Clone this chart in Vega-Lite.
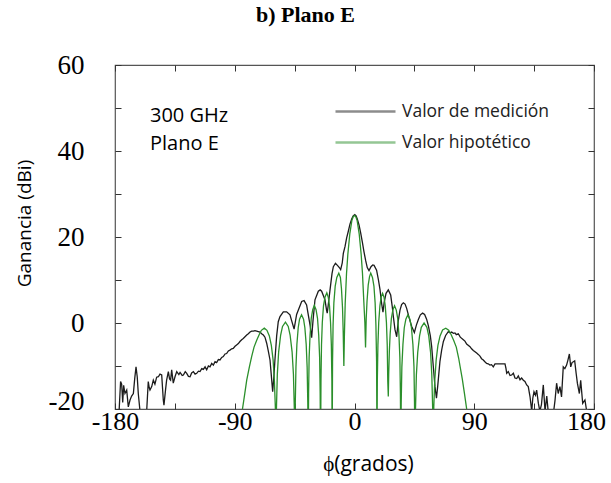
{
  "$schema": "https://vega.github.io/schema/vega-lite/v6.json",
  "width": 479,
  "height": 344,
  "autosize": {"type": "none"},
  "padding": {"left": 115, "top": 65, "right": 17, "bottom": 74},
  "background": "white",
  "title": {"text": "b) Plano E", "font": "Liberation Serif", "fontSize": 22, "fontWeight": "bold", "color": "#000", "anchor": "middle", "frame": "group", "dx": -49, "baseline": "alphabetic", "offset": 7},
  "config": {
    "view": {"stroke": "#555", "strokeWidth": 1.2},
    "axis": {"grid": false, "domain": false, "tickColor": "#333", "tickWidth": 1, "tickSize": -6}
  },
  "datasets": {
    "medicion": [
      {"phi":-177,"ganancia":-21},{"phi":-175.8,"ganancia":-13.6},{"phi":-175,"ganancia":-14.2},{"phi":-174.2,"ganancia":-18.5},{"phi":-173.5,"ganancia":-14.5},{"phi":-172.5,"ganancia":-16.4},{"phi":-171.2,"ganancia":-15.6},{"phi":-170,"ganancia":-19.5},{"phi":-168.7,"ganancia":-17.9},{"phi":-167.5,"ganancia":-17},{"phi":-166.2,"ganancia":-16.4},{"phi":-165.2,"ganancia":-13},{"phi":-164.2,"ganancia":-10.2},{"phi":-163.3,"ganancia":-12.5},{"phi":-162.5,"ganancia":-16.4},{"phi":-161.2,"ganancia":-20.5},{"phi":-158,"ganancia":-22},{"phi":-156.2,"ganancia":-20.5},{"phi":-155,"ganancia":-13.6},{"phi":-154.3,"ganancia":-15},{"phi":-153.7,"ganancia":-15.6},{"phi":-152.4,"ganancia":-14.8},{"phi":-151.2,"ganancia":-13.3},{"phi":-150,"ganancia":-14.2},{"phi":-148.7,"ganancia":-12.6},{"phi":-147.4,"ganancia":-12.5},{"phi":-146.2,"ganancia":-11.9},{"phi":-144.9,"ganancia":-12.1},{"phi":-143.7,"ganancia":-17.9},{"phi":-143.2,"ganancia":-19.1},{"phi":-142,"ganancia":-15.5},{"phi":-141.2,"ganancia":-13.3},{"phi":-139.9,"ganancia":-11.3},{"phi":-139,"ganancia":-13},{"phi":-138.2,"ganancia":-13.3},{"phi":-137.4,"ganancia":-10.9},{"phi":-136.2,"ganancia":-14},{"phi":-134.9,"ganancia":-12.5},{"phi":-133.6,"ganancia":-11.3},{"phi":-132,"ganancia":-12},{"phi":-131.1,"ganancia":-11.5},{"phi":-129.5,"ganancia":-12.2},{"phi":-128.6,"ganancia":-12.1},{"phi":-127.2,"ganancia":-11.3},{"phi":-126.1,"ganancia":-11.7},{"phi":-124.8,"ganancia":-12.4},{"phi":-123.6,"ganancia":-12.5},{"phi":-122.4,"ganancia":-11.6},{"phi":-121.1,"ganancia":-11.3},{"phi":-119.8,"ganancia":-11.9},{"phi":-118.6,"ganancia":-11.7},{"phi":-117.3,"ganancia":-11.2},{"phi":-116.1,"ganancia":-11.3},{"phi":-114.8,"ganancia":-10.6},{"phi":-113.6,"ganancia":-10.8},{"phi":-112.3,"ganancia":-10.2},{"phi":-111.1,"ganancia":-10.9},{"phi":-109.8,"ganancia":-10},{"phi":-108.6,"ganancia":-10.2},{"phi":-107.3,"ganancia":-9.4},{"phi":-106.1,"ganancia":-9.8},{"phi":-104.8,"ganancia":-9},{"phi":-103.6,"ganancia":-9.2},{"phi":-102.3,"ganancia":-8.5},{"phi":-101.1,"ganancia":-8.6},{"phi":-99.8,"ganancia":-8},{"phi":-98.6,"ganancia":-7.8},{"phi":-97.3,"ganancia":-7.2},{"phi":-96.1,"ganancia":-7.1},{"phi":-94.8,"ganancia":-6.5},{"phi":-93.6,"ganancia":-6.3},{"phi":-92.3,"ganancia":-6},{"phi":-91.1,"ganancia":-5.9},{"phi":-89.8,"ganancia":-5.4},{"phi":-88.6,"ganancia":-5.1},{"phi":-87.3,"ganancia":-4.8},{"phi":-86.1,"ganancia":-4.3},{"phi":-84.8,"ganancia":-3.9},{"phi":-83.6,"ganancia":-3.6},{"phi":-82.3,"ganancia":-3.2},{"phi":-81,"ganancia":-2.8},{"phi":-79.8,"ganancia":-2.5},{"phi":-78.5,"ganancia":-2.1},{"phi":-77.3,"ganancia":-1.9},{"phi":-76,"ganancia":-1.9},{"phi":-74.8,"ganancia":-1.8},{"phi":-73.5,"ganancia":-1.9},{"phi":-72.3,"ganancia":-2},{"phi":-71,"ganancia":-2.1},{"phi":-69.8,"ganancia":-2.5},{"phi":-68.5,"ganancia":-2.8},{"phi":-67.3,"ganancia":-3.3},{"phi":-66,"ganancia":-4.7},{"phi":-64.8,"ganancia":-6.5},{"phi":-63.5,"ganancia":-8.6},{"phi":-62.3,"ganancia":-13},{"phi":-61.5,"ganancia":-16},{"phi":-60.6,"ganancia":-12.5},{"phi":-59.8,"ganancia":-8.6},{"phi":-58.5,"ganancia":-3},{"phi":-57.3,"ganancia":0.3},{"phi":-56,"ganancia":1.5},{"phi":-53.5,"ganancia":2.6},{"phi":-51,"ganancia":2.6},{"phi":-48.5,"ganancia":1.9},{"phi":-47.2,"ganancia":0.5},{"phi":-45.4,"ganancia":-1.4},{"phi":-43.5,"ganancia":2},{"phi":-42.2,"ganancia":3},{"phi":-39.7,"ganancia":5},{"phi":-37.9,"ganancia":5.2},{"phi":-36,"ganancia":4.2},{"phi":-34.5,"ganancia":1.5},{"phi":-33.4,"ganancia":-0.5},{"phi":-32.2,"ganancia":-3.4},{"phi":-31.2,"ganancia":0.5},{"phi":-29.7,"ganancia":5.4},{"phi":-27.2,"ganancia":7.4},{"phi":-25.8,"ganancia":7.7},{"phi":-24.7,"ganancia":7.4},{"phi":-22.2,"ganancia":5.4},{"phi":-21,"ganancia":3},{"phi":-20.5,"ganancia":2.3},{"phi":-19.8,"ganancia":4},{"phi":-18.4,"ganancia":7.7},{"phi":-16.9,"ganancia":11.5},{"phi":-15.9,"ganancia":13.1},{"phi":-14.3,"ganancia":13.9},{"phi":-12.5,"ganancia":13.3},{"phi":-11.4,"ganancia":12.9},{"phi":-10.4,"ganancia":12.4},{"phi":-9.2,"ganancia":14},{"phi":-8.4,"ganancia":16.2},{"phi":-7.1,"ganancia":17.8},{"phi":-5.9,"ganancia":19.8},{"phi":-4.6,"ganancia":21.4},{"phi":-3.4,"ganancia":23},{"phi":-2.1,"ganancia":24.2},{"phi":-1,"ganancia":24.9},{"phi":0.2,"ganancia":25.2},{"phi":1.2,"ganancia":24.9},{"phi":2.1,"ganancia":24.2},{"phi":3.4,"ganancia":22.8},{"phi":4.6,"ganancia":21},{"phi":5.9,"ganancia":18.8},{"phi":7.1,"ganancia":16.6},{"phi":8.4,"ganancia":14.5},{"phi":9.6,"ganancia":12.9},{"phi":10.9,"ganancia":12.2},{"phi":12.4,"ganancia":13.1},{"phi":13.7,"ganancia":13.5},{"phi":14.7,"ganancia":13.4},{"phi":16.6,"ganancia":12.3},{"phi":18,"ganancia":10},{"phi":19.2,"ganancia":7.7},{"phi":20.4,"ganancia":4.5},{"phi":21.4,"ganancia":2.5},{"phi":22.3,"ganancia":4.8},{"phi":23.7,"ganancia":6.9},{"phi":25.4,"ganancia":7.7},{"phi":27.2,"ganancia":6.5},{"phi":28.3,"ganancia":4},{"phi":29.2,"ganancia":1.5},{"phi":30.4,"ganancia":-1.5},{"phi":31.7,"ganancia":-3.2},{"phi":32.9,"ganancia":0.5},{"phi":34.2,"ganancia":3},{"phi":35.4,"ganancia":4.3},{"phi":36.7,"ganancia":4.7},{"phi":38,"ganancia":4.4},{"phi":39.2,"ganancia":3.4},{"phi":41,"ganancia":1.3},{"phi":43,"ganancia":-0.8},{"phi":45,"ganancia":-2.2},{"phi":46.5,"ganancia":-0.5},{"phi":48,"ganancia":0.8},{"phi":49.5,"ganancia":1.9},{"phi":51.2,"ganancia":2.3},{"phi":52.7,"ganancia":2},{"phi":54.2,"ganancia":0.9},{"phi":55.5,"ganancia":-0.6},{"phi":57,"ganancia":-3},{"phi":58,"ganancia":-5.5},{"phi":59.2,"ganancia":-10},{"phi":60.5,"ganancia":-14.8},{"phi":61.6,"ganancia":-17.5},{"phi":62.6,"ganancia":-14.5},{"phi":64.2,"ganancia":-9},{"phi":65.5,"ganancia":-6.3},{"phi":66.8,"ganancia":-4.3},{"phi":68.5,"ganancia":-2.9},{"phi":70.5,"ganancia":-2},{"phi":72,"ganancia":-2.3},{"phi":73,"ganancia":-2.1},{"phi":74.3,"ganancia":-2.4},{"phi":75.5,"ganancia":-2.3},{"phi":76.5,"ganancia":-2.7},{"phi":78,"ganancia":-2.5},{"phi":79.5,"ganancia":-3.3},{"phi":81.8,"ganancia":-3.9},{"phi":83,"ganancia":-4.2},{"phi":84.3,"ganancia":-4.9},{"phi":86.8,"ganancia":-5.5},{"phi":88,"ganancia":-6},{"phi":89.3,"ganancia":-6.4},{"phi":91.8,"ganancia":-7},{"phi":93,"ganancia":-7.3},{"phi":94.3,"ganancia":-7.7},{"phi":95.5,"ganancia":-8.3},{"phi":96.8,"ganancia":-8.6},{"phi":98,"ganancia":-9},{"phi":99.3,"ganancia":-9.4},{"phi":100.5,"ganancia":-9.5},{"phi":101.8,"ganancia":-9.8},{"phi":103,"ganancia":-9.7},{"phi":104.3,"ganancia":-10.2},{"phi":105.6,"ganancia":-9.5},{"phi":113.1,"ganancia":-9.5},{"phi":113.8,"ganancia":-10.5},{"phi":114.4,"ganancia":-11.7},{"phi":115.6,"ganancia":-11.3},{"phi":116.9,"ganancia":-12.2},{"phi":118.1,"ganancia":-12.1},{"phi":119.4,"ganancia":-11.7},{"phi":120.6,"ganancia":-12.8},{"phi":121.9,"ganancia":-12.9},{"phi":123.1,"ganancia":-12.3},{"phi":124.4,"ganancia":-13.2},{"phi":125.6,"ganancia":-12.8},{"phi":126.9,"ganancia":-13.3},{"phi":128.1,"ganancia":-13.6},{"phi":129.4,"ganancia":-14.4},{"phi":130.6,"ganancia":-14.8},{"phi":131.9,"ganancia":-17.1},{"phi":133.2,"ganancia":-20.5},{"phi":134,"ganancia":-17.5},{"phi":134.9,"ganancia":-16},{"phi":136,"ganancia":-16.8},{"phi":136.9,"ganancia":-15.6},{"phi":138.2,"ganancia":-18.7},{"phi":139.3,"ganancia":-20.5},{"phi":140.5,"ganancia":-19},{"phi":141.9,"ganancia":-14.4},{"phi":143.2,"ganancia":-20.5},{"phi":144.5,"ganancia":-17},{"phi":145.7,"ganancia":-21},{"phi":149.5,"ganancia":-21},{"phi":150.7,"ganancia":-18},{"phi":151.9,"ganancia":-14},{"phi":153.1,"ganancia":-16.4},{"phi":154.4,"ganancia":-14.8},{"phi":155.6,"ganancia":-17.2},{"phi":156.9,"ganancia":-10.2},{"phi":158.1,"ganancia":-10.6},{"phi":159.4,"ganancia":-9.8},{"phi":160.5,"ganancia":-8.5},{"phi":161.5,"ganancia":-7.2},{"phi":162.5,"ganancia":-10.2},{"phi":163.5,"ganancia":-9.2},{"phi":164.5,"ganancia":-9},{"phi":165.5,"ganancia":-8.8},{"phi":166.5,"ganancia":-11.5},{"phi":167.5,"ganancia":-14},{"phi":169,"ganancia":-16.4},{"phi":170,"ganancia":-13.3},{"phi":171.5,"ganancia":-18.7},{"phi":173.2,"ganancia":-17.9},{"phi":174.5,"ganancia":-20.5},{"phi":176,"ganancia":-22}
    ],
    "hipotetico": [
      {"phi":-85.5,"ganancia":-24},{"phi":-84.2,"ganancia":-20},{"phi":-82.5,"ganancia":-16.5},{"phi":-81,"ganancia":-13.3},{"phi":-79,"ganancia":-10.2},{"phi":-77.3,"ganancia":-7.8},{"phi":-75.5,"ganancia":-5.6},{"phi":-73.5,"ganancia":-4},{"phi":-71.5,"ganancia":-2.6},{"phi":-70,"ganancia":-1.7},{"phi":-67.8,"ganancia":-1.2},{"phi":-65.8,"ganancia":-1.7},{"phi":-64,"ganancia":-3},{"phi":-62.5,"ganancia":-5.2},{"phi":-61.2,"ganancia":-8.5},{"phi":-60.2,"ganancia":-13.5},{"phi":-59.5,"ganancia":-19.5},{"phi":-59.1,"ganancia":-30},
      {"phi":-58.7,"ganancia":-20.3},{"phi":-58,"ganancia":-11.9},{"phi":-57,"ganancia":-6.7},{"phi":-55.5,"ganancia":-2.8},{"phi":-54.1,"ganancia":-0.8},{"phi":-51.9,"ganancia":0.2},{"phi":-49.8,"ganancia":-0.8},{"phi":-48.4,"ganancia":-2.8},{"phi":-46.9,"ganancia":-6.7},{"phi":-45.9,"ganancia":-11.9},{"phi":-45.2,"ganancia":-20.3},{"phi":-44.8,"ganancia":-30},
      {"phi":-44.5,"ganancia":-18.6},{"phi":-44,"ganancia":-10.2},{"phi":-43.3,"ganancia":-5},{"phi":-42.3,"ganancia":-1.1},{"phi":-41.3,"ganancia":0.9},{"phi":-39.8,"ganancia":1.9},{"phi":-38.3,"ganancia":0.9},{"phi":-37.3,"ganancia":-1.1},{"phi":-36.3,"ganancia":-5},{"phi":-35.6,"ganancia":-10.2},{"phi":-35.1,"ganancia":-18.6},{"phi":-34.8,"ganancia":-30},
      {"phi":-34.5,"ganancia":-16.4},{"phi":-34.1,"ganancia":-8},{"phi":-33.4,"ganancia":-2.8},{"phi":-32.5,"ganancia":1.1},{"phi":-31.4,"ganancia":3.1},{"phi":-30.2,"ganancia":4.1},{"phi":-28.9,"ganancia":3.1},{"phi":-27.8,"ganancia":1.1},{"phi":-26.9,"ganancia":-2.8},{"phi":-26.2,"ganancia":-8},{"phi":-25.8,"ganancia":-16.4},{"phi":-25.5,"ganancia":-30},
      {"phi":-25.2,"ganancia":-13.5},{"phi":-24.8,"ganancia":-5.1},{"phi":-24.2,"ganancia":0.1},{"phi":-23.3,"ganancia":4},{"phi":-22.2,"ganancia":6},{"phi":-20.8,"ganancia":7},{"phi":-19.7,"ganancia":6},{"phi":-18.8,"ganancia":4},{"phi":-18,"ganancia":0.1},{"phi":-17.4,"ganancia":-5.1},{"phi":-17,"ganancia":-13.5},{"phi":-16.8,"ganancia":-30},
      {"phi":-16.5,"ganancia":-8.9},{"phi":-16.1,"ganancia":-0.5},{"phi":-15.5,"ganancia":4.7},{"phi":-14.5,"ganancia":8.6},{"phi":-13.3,"ganancia":10.6},{"phi":-11.8,"ganancia":11.6},{"phi":-10.6,"ganancia":10.6},{"phi":-9.8,"ganancia":8},{"phi":-9,"ganancia":3.5},{"phi":-8.5,"ganancia":-2},{"phi":-8,"ganancia":-10},
      {"phi":-7.6,"ganancia":-3},{"phi":-7,"ganancia":4.5},{"phi":-6,"ganancia":11.5},{"phi":-5,"ganancia":16},{"phi":-3.5,"ganancia":20.8},{"phi":-2,"ganancia":23.8},{"phi":-1,"ganancia":24.7},{"phi":0,"ganancia":25},{"phi":1,"ganancia":24.7},{"phi":2,"ganancia":23.8},{"phi":3.5,"ganancia":20.8},{"phi":5,"ganancia":16},{"phi":6,"ganancia":11.5},{"phi":7,"ganancia":5},{"phi":7.8,"ganancia":0},{"phi":8.3,"ganancia":-5.7},
      {"phi":8.8,"ganancia":1},{"phi":9.4,"ganancia":5},{"phi":10.3,"ganancia":8.8},{"phi":11.3,"ganancia":10.8},{"phi":12.2,"ganancia":11.6},{"phi":13.5,"ganancia":10.6},{"phi":14.6,"ganancia":8.6},{"phi":15.5,"ganancia":4.7},{"phi":16.1,"ganancia":-0.5},{"phi":16.6,"ganancia":-8.9},{"phi":16.9,"ganancia":-30},
      {"phi":17.15,"ganancia":-13.5},{"phi":17.6,"ganancia":-5.1},{"phi":18.2,"ganancia":0.1},{"phi":19.1,"ganancia":4},{"phi":20,"ganancia":6},{"phi":21.1,"ganancia":6.9},{"phi":22.2,"ganancia":6},{"phi":23.1,"ganancia":4},{"phi":24,"ganancia":0.1},{"phi":24.6,"ganancia":-5.1},{"phi":25,"ganancia":-13.5},{"phi":25.4,"ganancia":-17.1},
      {"phi":25.7,"ganancia":-12},{"phi":26.2,"ganancia":-6.5},{"phi":26.8,"ganancia":-2.5},{"phi":27.7,"ganancia":1},{"phi":28.8,"ganancia":3},{"phi":30.1,"ganancia":4},{"phi":31.4,"ganancia":3},{"phi":32.5,"ganancia":1},{"phi":33.4,"ganancia":-2.8},{"phi":34.1,"ganancia":-8},{"phi":34.5,"ganancia":-16.4},{"phi":34.8,"ganancia":-30},
      {"phi":35.1,"ganancia":-18.6},{"phi":35.6,"ganancia":-10.2},{"phi":36.4,"ganancia":-5},{"phi":37.4,"ganancia":-1.1},{"phi":38.6,"ganancia":0.9},{"phi":40.1,"ganancia":1.9},{"phi":41.6,"ganancia":0.9},{"phi":42.8,"ganancia":-1.1},{"phi":43.9,"ganancia":-5},{"phi":44.7,"ganancia":-10.2},{"phi":45.1,"ganancia":-18.6},{"phi":45.4,"ganancia":-30},
      {"phi":45.8,"ganancia":-20.5},{"phi":46.5,"ganancia":-12.1},{"phi":47.5,"ganancia":-6.9},{"phi":48.9,"ganancia":-3},{"phi":50.2,"ganancia":-1},{"phi":52.3,"ganancia":0},{"phi":54.4,"ganancia":-1},{"phi":55.8,"ganancia":-3},{"phi":57.2,"ganancia":-6.9},{"phi":58.1,"ganancia":-12.1},{"phi":58.8,"ganancia":-20.5},{"phi":59.2,"ganancia":-30},
      {"phi":59.6,"ganancia":-19.5},{"phi":60.3,"ganancia":-13.5},{"phi":61.4,"ganancia":-8.5},{"phi":62.7,"ganancia":-5.2},{"phi":64.3,"ganancia":-3},{"phi":66.2,"ganancia":-1.6},{"phi":68.6,"ganancia":-1.2},{"phi":70.8,"ganancia":-1.7},{"phi":72.5,"ganancia":-2.6},{"phi":74.5,"ganancia":-4},{"phi":76.5,"ganancia":-5.6},{"phi":78.3,"ganancia":-8.2},{"phi":79.3,"ganancia":-10},{"phi":81,"ganancia":-13},{"phi":82.6,"ganancia":-16.3},{"phi":84.3,"ganancia":-20},{"phi":85.5,"ganancia":-23}
    ]
  },
  "layer": [
    {
      "layer": [
        {
          "data": {"name": "medicion"},
          "mark": {"type": "line", "clip": true, "strokeWidth": 1.3},
          "encoding": {
            "x": {"field": "phi", "type": "quantitative"},
            "y": {"field": "ganancia", "type": "quantitative"},
            "color": {"datum": "Valor de medición"}
          }
        },
        {
          "data": {"name": "hipotetico"},
          "mark": {"type": "line", "clip": true, "strokeWidth": 1.3},
          "encoding": {
            "x": {"field": "phi", "type": "quantitative"},
            "y": {"field": "ganancia", "type": "quantitative"},
            "color": {"datum": "Valor hipotético"}
          }
        }
      ],
      "encoding": {
        "x": {
          "field": "phi", "type": "quantitative",
          "scale": {"domain": [-180, 180], "nice": false, "zero": false},
          "axis": {
            "orient": "bottom",
            "values": [-180, -135, -90, -45, 0, 45, 90, 135, 180],
            "labelExpr": "datum.value % 90 == 0 ? '' + datum.value : ''",
            "labelFont": "Liberation Serif", "labelFontSize": 26, "labelColor": "#000",
            "labelPadding": 5, "labelDx": -5, "labelOverlap": false, "labelFlush": false,
            "labelOffset": {"condition": {"test": "datum.value == 180", "value": -8}, "value": 0},
            "title": "ϕ(grados)", "titleFont": "Open Sans", "titleFontSize": 21, "titleFontWeight": "normal", "titleColor": "#000",
            "titleX": 253, "titleY": 55, "titleBaseline": "middle", "titleAnchor": "middle"
          }
        },
        "y": {
          "field": "ganancia", "type": "quantitative",
          "scale": {"domain": [-20, 60], "nice": false, "zero": false},
          "axis": {
            "orient": "left",
            "values": [-20, -10, 0, 10, 20, 30, 40, 50, 60],
            "labelExpr": "datum.value % 20 == 0 ? '' + datum.value : ''",
            "labelFont": "Liberation Serif", "labelFontSize": 27, "labelColor": "#000",
            "labelPadding": 37, "labelOverlap": false, "labelFlush": false,
            "labelBaseline": {"condition": {"test": "datum.value == -20", "value": "alphabetic"}, "value": "middle"},
            "title": "Ganancia (dBi)", "titleFont": "Open Sans", "titleFontSize": 19, "titleFontWeight": "normal", "titleColor": "#000",
            "titleX": -91, "titleY": 158, "titleBaseline": "middle", "titleAngle": -90
          }
        },
        "color": {
          "type": "nominal",
          "scale": {"domain": ["Valor de medición", "Valor hipotético"], "range": ["#1c1c1c", "#2b8f2b"]},
          "legend": {
            "title": null, "orient": "none", "legendX": 234, "legendY": 30, "direction": "vertical",
            "symbolType": "M-2,0H2", "symbolSize": 900, "symbolStrokeWidth": 2.5, "symbolOpacity": 0.5,
            "labelFont": "Open Sans", "labelFontSize": 17.5, "labelColor": "#222", "labelOffset": 20,
            "rowPadding": 6, "padding": 0
          }
        }
      }
    },
    {
      "data": {"values": [{}]},
      "mark": {"type": "text", "align": "left", "baseline": "middle", "font": "Open Sans", "fontSize": 20, "lineHeight": 28, "color": "#000"},
      "encoding": {
        "x": {"datum": -153.7, "type": "quantitative", "axis": {"orient": "top", "values": [-180, -135, -90, -45, 0, 45, 90, 135, 180], "labels": false, "title": null}},
        "y": {"datum": 48.1, "type": "quantitative", "axis": {"orient": "right", "values": [-20, -10, 0, 10, 20, 30, 40, 50, 60], "labels": false, "title": null}},
        "text": {"value": ["300 GHz", "Plano E"]}
      }
    }
  ],
  "resolve": {"axis": {"x": "independent", "y": "independent"}}
}
